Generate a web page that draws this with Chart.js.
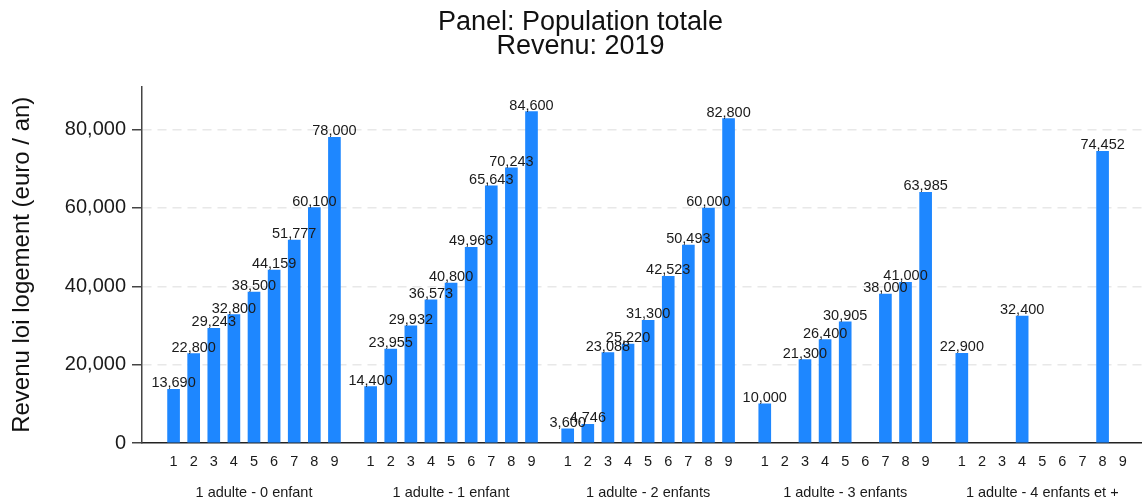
<!DOCTYPE html>
<html>
<head>
<meta charset="utf-8">
<title>Revenu loi logement 2019</title>
<script src="https://cdn.jsdelivr.net/npm/chart.js@4.4.1/dist/chart.umd.min.js"></script>
<style>
    html, body { margin: 0; padding: 0; background: #fff; }
    #wrap { width: 1142px; height: 499px; }
</style>
</head>
<body>
<div id="wrap"><canvas id="chart"></canvas></div>
<script>
// Household types and deciles
const groupNames = ['1 adulte - 0 enfant', '1 adulte - 1 enfant', '1 adulte - 2 enfants',
                    '1 adulte - 3 enfants', '1 adulte - 4 enfants et +'];
const decileLabels = ['1', '2', '3', '4', '5', '6', '7', '8', '9'];

// Revenu loi logement (euro / an) per decile, null = no bar
const revenu0Enfant = [13690, 22800, 29243, 32800, 38500, 44159, 51777, 60100, 78000];
const revenu1Enfant = [14400, 23955, 29932, 36573, 40800, 49968, 65643, 70243, 84600];
const revenu2Enfants = [3600, 4746, 23088, 25220, 31300, 42523, 50493, 60000, 82800];
const revenu3Enfants = [10000, null, 21300, 26400, 30905, null, 38000, 41000, 63985];
const revenu4Enfants = [22900, null, null, 32400, null, null, null, 74452, null];

const yTicks = [0, 20000, 40000, 60000, 80000];

const groups = [revenu0Enfant, revenu1Enfant, revenu2Enfants, revenu3Enfants, revenu4Enfants];
const GROUP_STEP = 9.8;   // distance between groups, in bar slots
const FONT = '"Liberation Sans", Arial, sans-serif';
const TEXT = '#1a1a1a';

// Build bar points and tick positions
const points = [];
const tickPositions = [];
groups.forEach((vals, g) => {
    vals.forEach((v, i) => {
        const pos = g * GROUP_STEP + i + 1;
        tickPositions.push(pos);
        if (v !== null) points.push({ x: pos, y: v });
    });
});
const groupCenters = groupNames.map((_, g) => g * GROUP_STEP + 5);

// Value labels above bars
const valueLabels = {
    id: 'valueLabels',
    afterDatasetsDraw(chart) {
        const ctx = chart.ctx;
        const meta = chart.getDatasetMeta(0);
        const data = chart.data.datasets[0].data;
        ctx.save();
        ctx.font = '14.5px ' + FONT;
        ctx.fillStyle = TEXT;
        ctx.textAlign = 'center';
        ctx.textBaseline = 'alphabetic';
        meta.data.forEach((bar, i) => {
            ctx.fillText(data[i].y.toLocaleString('en-US'), bar.x, bar.y - 2);
        });
        ctx.restore();
    }
};

Chart.defaults.font.family = FONT;
Chart.defaults.color = TEXT;

const xMin = -0.57;
const xMax = 49.16;

new Chart(document.getElementById('chart'), {
    type: 'bar',
    data: {
        datasets: [{
            data: points,
            backgroundColor: '#1e87ff',
            borderWidth: 0,
            barThickness: 12
        }]
    },
    options: {
        responsive: true,
        maintainAspectRatio: false,
        animation: false,
        layout: { padding: { left: 19, right: 0, top: 0, bottom: 0 } },
        plugins: {
            legend: { display: false },
            tooltip: { enabled: false },
            title: {
                display: true,
                text: ['Panel: Population totale', 'Revenu: 2019'],
                color: '#111',
                font: { size: 27, weight: 'normal', lineHeight: 0.88 },
                padding: { top: 11, bottom: 28 }
            }
        },
        scales: {
            x: {
                type: 'linear',
                position: 'bottom',
                offset: false,
                weight: 0,
                min: xMin,
                max: xMax,
                grid: { display: false, drawTicks: false, offset: false },
                border: { display: true, color: '#222', width: 1.5 },
                afterBuildTicks: axis => { axis.ticks = tickPositions.map(v => ({ value: v })); },
                afterFit: axis => { axis.height = 30; },
                ticks: {
                    autoSkip: false,
                    maxRotation: 0,
                    padding: 10,
                    color: TEXT,
                    font: { size: 14.5 },
                    callback: (value, index) => decileLabels[index % decileLabels.length]
                }
            },
            xg: {
                type: 'linear',
                position: 'bottom',
                offset: false,
                weight: 1,
                min: xMin,
                max: xMax,
                grid: { display: false, drawTicks: false, offset: false },
                border: { display: false },
                afterBuildTicks: axis => { axis.ticks = groupCenters.map(v => ({ value: v })); },
                afterFit: axis => { axis.height = 26; },
                ticks: {
                    autoSkip: false,
                    maxRotation: 0,
                    padding: 11,
                    color: TEXT,
                    font: { size: 14.5 },
                    callback: (value, index) => groupNames[index]
                }
            },
            y: {
                min: 0,
                max: 91000,
                afterBuildTicks: axis => { axis.ticks = yTicks.map(v => ({ value: v })); },
                afterFit: axis => { axis.width = 123; },
                grid: {
                    color: ctx => (ctx.tick && ctx.tick.value === 0) ? 'rgba(0,0,0,0)' : '#e8e8e8',
                    lineWidth: 1.5,
                    borderDash: [9, 6],
                    tickColor: '#444',
                    tickLength: 10,
                    tickWidth: 1.5,
                    tickBorderDash: []
                },
                border: { display: true, color: '#444', width: 1.5, dash: [9, 6] },
                ticks: {
                    padding: 6,
                    color: TEXT,
                    font: { size: 20 },
                    callback: v => v.toLocaleString('en-US')
                },
                title: {
                    display: true,
                    text: 'Revenu loi logement (euro / an)',
                    color: '#111',
                    font: { size: 24, lineHeight: 1 },
                    padding: { top: -9, bottom: 0 }
                }
            }
        }
    },
    plugins: [valueLabels]
});
</script>
</body>
</html>
